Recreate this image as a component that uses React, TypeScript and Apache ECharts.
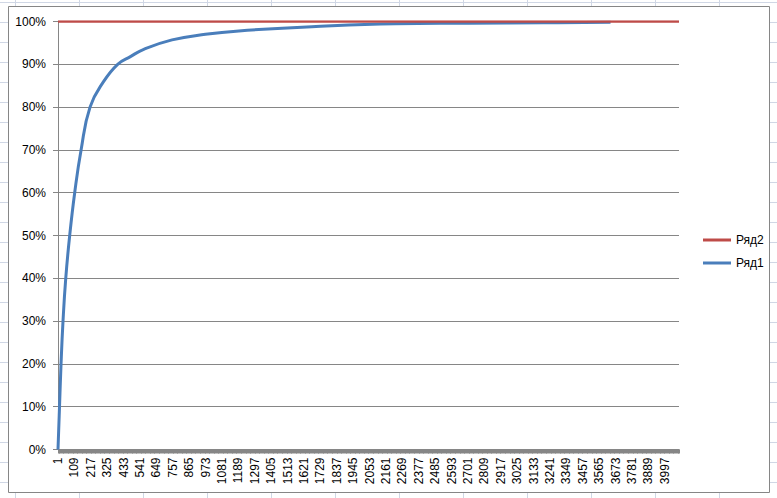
import React, { useEffect, useRef } from "react";
import * as echarts from "echarts";

// Category numbers (1-based) and cumulative share (%) for Ряд1
const blueCats = [1, 11, 21, 34, 52, 78, 111, 153, 212, 302, 394, 478, 566, 752, 972, 1192, 1673, 2224, 2707, 3200, 3640];
const blueVals = [0, 10, 20, 30, 40, 50, 60, 70, 80, 86, 90, 91.8, 93.5, 95.7, 97, 97.8, 98.8, 99.5, 99.6, 99.7, 99.8];
// Ряд2: constant 100% over all categories
const redCats = [1, 4091];
const redVals = [100, 100];
const totalCategories = 4091;
const labelStep = 108;
const yTicks = [0, 10, 20, 30, 40, 50, 60, 70, 80, 90, 100];

const FONT = "'Liberation Sans', Arial, sans-serif";

export default function App() {
  const ref = useRef<HTMLDivElement>(null);
  useEffect(() => {
    if (!ref.current) return;
    const chart = echarts.init(ref.current, null, { renderer: "svg" });
    chart.setOption({
      animation: false,
      textStyle: { fontFamily: FONT },
      graphic: [
        {
          type: "rect",
          z: -10,
          silent: true,
          shape: { x: 8.5, y: 6.5, width: 761, height: 486 },
          style: { fill: "#ffffff", stroke: "#868686", lineWidth: 1 },
        },
      ],
      legend: {
        orient: "vertical",
        left: 698,
        top: 229,
        itemWidth: 28,
        itemHeight: 3,
        itemGap: 11,
        icon: "rect",
        data: ["Ряд2", "Ряд1"],
        textStyle: { fontFamily: FONT, fontSize: 12, color: "#000" },
      },
      grid: { left: 58, right: 98, top: 21.5, bottom: 48.5, containLabel: false },
      xAxis: {
        type: "value",
        min: 0,
        max: totalCategories - 1,
        interval: labelStep,
        axisLine: { show: true, lineStyle: { color: "#868686", width: 1 } },
        axisTick: { show: true, length: 4, lineStyle: { color: "#868686", width: 1 } },
        minorTick: { show: true, splitNumber: 20, length: 4, lineStyle: { color: "#868686", width: 1 } },
        splitLine: { show: false },
        axisLabel: {
          rotate: 90,
          margin: 8,
          showMaxLabel: false,
          fontFamily: FONT,
          fontSize: 12,
          color: "#000",
          formatter: (v: number) => String(v + 1),
        },
      },
      yAxis: {
        type: "value",
        min: yTicks[0],
        max: yTicks[yTicks.length - 1],
        interval: 10,
        axisLine: { show: true, lineStyle: { color: "#868686", width: 1 } },
        axisTick: { show: true, length: 5, lineStyle: { color: "#868686" } },
        splitLine: { show: true, lineStyle: { color: "#868686", width: 1 } },
        axisLabel: {
          margin: 12,
          fontFamily: FONT,
          fontSize: 12,
          color: "#000",
          formatter: "{value}%",
        },
      },
      series: [
        {
          name: "Ряд1",
          type: "line",
          showSymbol: false,
          symbol: "none",
          smooth: 0.45,
          color: "#4A7EBB",
          lineStyle: { color: "#4A7EBB", width: 3 },
          data: blueCats.map((c, i) => [c - 1, blueVals[i]]),
        },
        {
          name: "Ряд2",
          type: "line",
          showSymbol: false,
          symbol: "none",
          color: "#BE4B48",
          lineStyle: { color: "#BE4B48", width: 2.5 },
          data: redCats.map((c, i) => [c - 1, redVals[i]]),
        },
      ],
    });
    return () => chart.dispose();
  }, []);

  return (
    <div
      style={{
        position: "fixed",
        left: 0,
        top: 0,
        width: 777,
        height: 498,
        background: "#ffffff",
        backgroundImage:
          "linear-gradient(to right, #D0D7E5 1px, transparent 1px), linear-gradient(to bottom, #D0D7E5 1px, transparent 1px)",
        backgroundSize: "64px 20px",
        backgroundPosition: "15px 2px",
      }}
    >
      <div ref={ref} style={{ width: 777, height: 498 }} />
    </div>
  );
}
